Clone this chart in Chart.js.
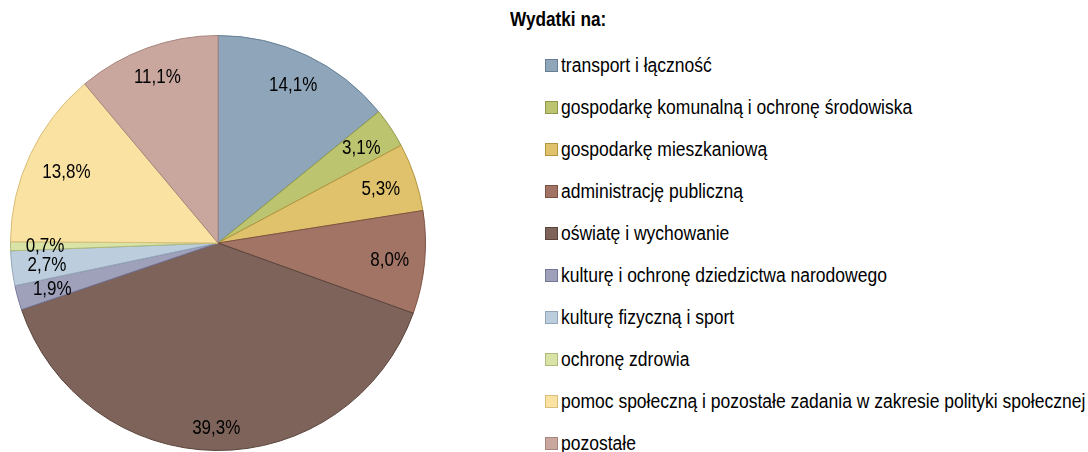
<!DOCTYPE html>
<html>
<head>
<meta charset="utf-8">
<script src="https://cdn.jsdelivr.net/npm/chart.js@4/dist/chart.umd.min.js"></script>
<style>
    body { margin: 0; background: #fff; width: 1088px; height: 452px; position: relative; overflow: hidden;
           font-family: "Liberation Sans", Arial, sans-serif; }
    #pieBox { position: absolute; left: 0; top: 0; width: 440px; height: 452px; }
    #legend { position: absolute; left: 510px; top: 8px; color: #000; }
    #legend h3 { margin: 0 0 13px 0; font-size: 20px; font-weight: bold; transform: scaleX(0.86); transform-origin: left center; }
    #legend ul { list-style: none; margin: 0; padding: 0 0 0 35px; }
    #legend li { height: 42px; line-height: 42px; font-size: 20px; white-space: nowrap; display: flex; align-items: center; }
    #legend .box { width: 11px; height: 11px; margin-right: 3px; border: 1px solid; flex: none; }
    #legend .txt { display: inline-block; transform: scaleX(0.875); transform-origin: left center; }
</style>
</head>
<body>
<div id="pieBox"><canvas id="pieChart"></canvas></div>
<div id="legend">
    <h3>Wydatki na:</h3>
    <ul id="legendList"></ul>
</div>
<script>
const labels = [
    "transport i łączność",
    "gospodarkę komunalną i ochronę środowiska",
    "gospodarkę mieszkaniową",
    "administrację publiczną",
    "oświatę i wychowanie",
    "kulturę i ochronę dziedzictwa narodowego",
    "kulturę fizyczną i sport",
    "ochronę zdrowia",
    "pomoc społeczną i pozostałe zadania w zakresie polityki społecznej",
    "pozostałe"
];
const shares = [14.1, 3.1, 5.3, 8.0, 39.3, 1.9, 2.7, 0.7, 13.8, 11.1];
const fills = ["#8ea5ba", "#bcc46f", "#e0c26c", "#a27465", "#7d6359", "#9fa1bb", "#bccedd", "#d9e3a6", "#fae2a2", "#c9a79f"];
const borders = ["#667f95", "#8f984a", "#b3953f", "#7d5243", "#5a443c", "#75779a", "#92a6b8", "#aebb7a", "#d9bd78", "#a6857d"];

const labelFont = '20px "Liberation Sans", Arial, sans-serif';
const squeeze = 0.85; // the original uses a narrow face

// labels placed "inside end" like the spreadsheet does
const insideLabels = {
    id: "insideLabels",
    afterDatasetsDraw(chart) {
        const ctx = chart.ctx;
        const meta = chart.getDatasetMeta(0);
        ctx.save();
        ctx.font = labelFont;
        ctx.fillStyle = "#000";
        ctx.textAlign = "center";
        ctx.textBaseline = "middle";
        meta.data.forEach((arc, i) => {
            const txt = shares[i].toFixed(1).replace(".", ",") + "%";
            const p = arc.getProps(["x", "y", "startAngle", "endAngle", "outerRadius"], true);
            const mid = (p.startAngle + p.endAngle) / 2;
            const w = ctx.measureText(txt).width * squeeze;
            const h = 15;
            const c = Math.cos(mid), s = Math.sin(mid);
            const extent = Math.abs(c) * w / 2 + Math.abs(s) * h / 2;
            const r = p.outerRadius - 15 - extent;
            ctx.save();
            ctx.translate(p.x + c * r, p.y + s * r + 1);
            ctx.scale(squeeze, 1);
            ctx.fillText(txt, 0, 0);
            ctx.restore();
        });
        ctx.restore();
    }
};

new Chart(document.getElementById("pieChart"), {
    type: "pie",
    data: {
        labels,
        datasets: [{
            data: shares,
            backgroundColor: fills,
            borderColor: borders,
            borderWidth: 1
        }]
    },
    options: {
        responsive: true,
        maintainAspectRatio: false,
        animation: false,
        layout: { padding: { left: 10, top: 35, bottom: 1, right: 14 } },
        plugins: {
            legend: { display: false },
            tooltip: { enabled: false }
        }
    },
    plugins: [insideLabels]
});

const list = document.getElementById("legendList");
labels.forEach((lab, i) => {
    const li = document.createElement("li");
    const box = document.createElement("span");
    box.className = "box";
    box.style.background = fills[i];
    box.style.borderColor = borders[i];
    const txt = document.createElement("span");
    txt.className = "txt";
    txt.textContent = lab;
    li.appendChild(box);
    li.appendChild(txt);
    list.appendChild(li);
});
</script>
</body>
</html>
